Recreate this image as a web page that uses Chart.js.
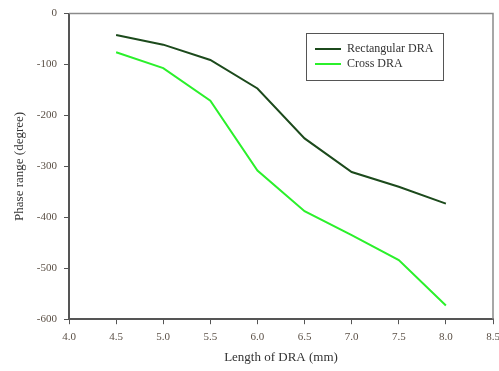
<!DOCTYPE html>
<html>
<head>
<meta charset="utf-8">
<script src="https://cdn.jsdelivr.net/npm/chart.js@4"></script>
<style>
  html, body { margin: 0; padding: 0; background: #fff; }
  #wrap { width: 499px; height: 371px; }
</style>
</head>
<body>
<div id="wrap"><canvas id="myChart" width="499" height="371"></canvas></div>
<script>
// lengths in mm
var lengths = [4.5, 5.0, 5.5, 6.0, 6.5, 7.0, 7.5, 8.0];
var rectPhase = [-42, -61, -91, -147, -245, -311, -340, -373];
var crossPhase = [-76, -107, -171, -308, -388, -435, -484, -573];

function pts(ys) {
    return lengths.map(function (x, i) { return { x: x, y: ys[i] }; });
}

var serif = "'Liberation Serif', 'Times New Roman', serif";
var tickColor = '#5b5046';

// grey frame round the plot + legend box drawn inside it
var framePlugin = {
    id: 'frame',
    beforeDatasetsDraw: function (chart) {
        var a = chart.chartArea, c = chart.ctx;
        c.save();
        c.strokeStyle = '#8a8a8a';
        c.lineWidth = 1.5;
        c.beginPath();
        c.moveTo(a.left, a.top);
        c.lineTo(a.right, a.top);
        c.lineTo(a.right, a.bottom);
        c.stroke();
        c.restore();
    },
    afterDraw: function (chart) {
        var c = chart.ctx;
        var bx = 306, by = 33, bw = 137, bh = 47;
        c.save();
        c.fillStyle = '#fff';
        c.fillRect(bx, by, bw, bh);
        c.strokeStyle = '#555';
        c.lineWidth = 1;
        c.strokeRect(bx + 0.5, by + 0.5, bw, bh);
        c.font = '12px ' + serif;
        c.textBaseline = 'middle';
        chart.data.datasets.forEach(function (ds, i) {
            var y = by + 16 + i * 15;
            c.strokeStyle = ds.borderColor;
            c.lineWidth = 2;
            c.beginPath();
            c.moveTo(bx + 9, y);
            c.lineTo(bx + 35, y);
            c.stroke();
            c.fillStyle = '#333';
            c.fillText(ds.label, bx + 41, y);
        });
        c.restore();
    }
};

var ctx = document.getElementById('myChart').getContext('2d');
var myChart = new Chart(ctx, {
    type: 'line',
    data: {
        datasets: [{
            label: 'Rectangular DRA',
            data: pts(rectPhase),
            borderColor: '#1c4a1c',
            borderWidth: 2,
            pointRadius: 0,
            fill: false
        }, {
            label: 'Cross DRA',
            data: pts(crossPhase),
            borderColor: '#2bf02b',
            borderWidth: 2,
            pointRadius: 0,
            fill: false
        }]
    },
    options: {
        responsive: false,
        animation: false,
        layout: { padding: { top: 11, right: 0, left: 0, bottom: 2 } },
        plugins: {
            legend: { display: false },
            tooltip: { enabled: false }
        },
        scales: {
            x: {
                type: 'linear',
                min: 4.0,
                max: 8.5,
                afterFit: function (s) { s.paddingRight = 6; s.paddingLeft = 0; },
                ticks: {
                    stepSize: 0.5,
                    color: tickColor,
                    font: { family: serif, size: 11 },
                    padding: 6,
                    callback: function (v) { return v.toFixed(1); }
                },
                grid: { drawOnChartArea: false, drawTicks: true, tickLength: 5, color: '#555' },
                border: { color: '#555', width: 2 },
                title: {
                    display: true,
                    text: 'Length of DRA (mm)',
                    color: '#333',
                    font: { family: serif, size: 13 },
                    padding: { top: 0 }
                }
            },
            y: {
                min: -600,
                max: 0,
                afterFit: function (s) { s.width = 69; },
                ticks: {
                    stepSize: 100,
                    color: tickColor,
                    font: { family: serif, size: 11 },
                    padding: 7
                },
                grid: { drawOnChartArea: false, drawTicks: true, tickLength: 5, color: '#555' },
                border: { color: '#555', width: 2 },
                title: {
                    display: true,
                    text: 'Phase range (degree)',
                    color: '#333',
                    font: { family: serif, size: 13 },
                    padding: { top: 12, bottom: 0 }
                }
            }
        }
    },
    plugins: [framePlugin]
});
</script>
</body>
</html>
